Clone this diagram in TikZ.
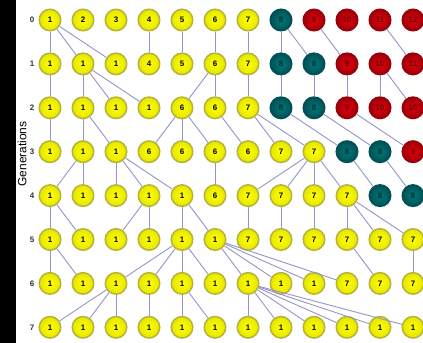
\documentclass[tikz,border=0pt]{standalone}
\usepackage{fontspec}
\setmainfont{Liberation Sans}
\definecolor{rimyel}{RGB}{180,180,55}
\definecolor{tealin}{RGB}{0,120,120}
\definecolor{tealout}{RGB}{0,80,85}
\definecolor{redin}{RGB}{230,0,10}
\definecolor{redout}{RGB}{155,0,10}
\definecolor{linkcol}{RGB}{150,148,200}

\begin{document}
\begin{tikzpicture}[x=1bp, y=-1bp,
    ind/.style={circle, minimum size=21.5bp, inner sep=0pt, line width=1.5bp, font=\fontsize{8}{8}\selectfont\bfseries},
    yel/.style={ind, draw=rimyel, inner color=yellow, outer color=yellow!90!black},
    tea/.style={ind, draw=tealout, inner color=tealin, outer color=tealout, text=tealout!60!black},
    rd/.style={ind, draw=redout, inner color=redin, outer color=redout, text=redout!70!black},
    link/.style={draw=linkcol, line width=0.9bp},
    gen/.style={text=black!80, font=\fontsize{8}{8}\selectfont\bfseries}]
    \useasboundingbox (0,0) rectangle (423,343);
    \fill[white] (0,0) rectangle (423,343);
    \fill[black] (0,0) rectangle (16,343);
    \node[rotate=90, font=\fontsize{12}{12}\selectfont] (axis) at (22,154) {Generations};
    \foreach \r/\row in {
        0/{yel/1,yel/2,yel/3,yel/4,yel/5,yel/6,yel/7,tea/8,rd/9,rd/10,rd/11,rd/12},
        1/{yel/1,yel/1,yel/1,yel/4,yel/5,yel/6,yel/7,tea/8,tea/8,rd/9,rd/10,rd/11},
        2/{yel/1,yel/1,yel/1,yel/1,yel/6,yel/6,yel/7,tea/8,tea/8,rd/9,rd/10,rd/10},
        3/{yel/1,yel/1,yel/1,yel/6,yel/6,yel/6,yel/6,yel/7,yel/7,tea/8,tea/8,rd/9},
        4/{yel/1,yel/1,yel/1,yel/1,yel/1,yel/6,yel/7,yel/7,yel/7,yel/7,tea/8,tea/8},
        5/{yel/1,yel/1,yel/1,yel/1,yel/1,yel/1,yel/7,yel/7,yel/7,yel/7,yel/7,yel/7},
        6/{yel/1,yel/1,yel/1,yel/1,yel/1,yel/1,yel/1,yel/1,yel/1,yel/7,yel/7,yel/7},
        7/{yel/1,yel/1,yel/1,yel/1,yel/1,yel/1,yel/1,yel/1,yel/1,yel/1,yel/1,yel/1}}{
        \node[gen] (g\r) at (32,{20+43.9*\r}) {\r};
        \foreach \s/\l [count=\c] in \row
            \node[\s] (n\r-\c) at ({17+33*\c},{20+43.9*\r}) {\l};
    }
    \foreach \a/\b in {0-1/1-1, 0-1/1-2, 0-1/1-3, 0-4/1-4, 0-5/1-5, 0-6/1-6, 0-7/1-7, 0-8/1-8, 0-8/1-9, 0-9/1-10, 0-11/1-12,
        1-1/2-1, 1-2/2-2, 1-2/2-3, 1-2/2-4, 1-6/2-5, 1-6/2-6, 1-7/2-7, 1-8/2-8, 1-9/2-9, 1-10/2-10, 1-11/2-11, 1-11/2-12,
        2-1/3-1, 2-2/3-2, 2-2/3-3, 2-5/3-4, 2-5/3-5, 2-5/3-6, 2-6/3-7, 2-7/3-8, 2-7/3-9, 2-8/3-10, 2-9/3-11, 2-10/3-12,
        3-2/4-1, 3-2/4-2, 3-3/4-3, 3-3/4-4, 3-3/4-5, 3-6/4-6, 3-9/4-7, 3-9/4-8, 3-9/4-9, 3-9/4-10, 3-10/4-11, 3-11/4-12,
        4-1/5-1, 4-1/5-2, 4-4/5-3, 4-4/5-4, 4-5/5-5, 4-5/5-6, 4-7/5-7, 4-8/5-8, 4-9/5-9, 4-10/5-10, 4-10/5-11, 4-10/5-12,
        5-1/6-1, 5-1/6-2, 5-5/6-3, 5-5/6-4, 5-5/6-5, 5-5/6-6, 5-6/6-7, 5-6/6-8, 5-6/6-9, 5-6/6-10, 5-10/6-11, 5-12/6-12,
        6-3/7-1, 6-3/7-2, 6-3/7-3, 6-4/7-4, 6-5/7-5, 6-5/7-6, 6-7/7-7, 6-7/7-8, 6-7/7-9, 6-7/7-10, 6-7/7-11, 6-7/7-12}
        \draw[link] (n\a) -- (n\b);
\end{tikzpicture}
\end{document}
